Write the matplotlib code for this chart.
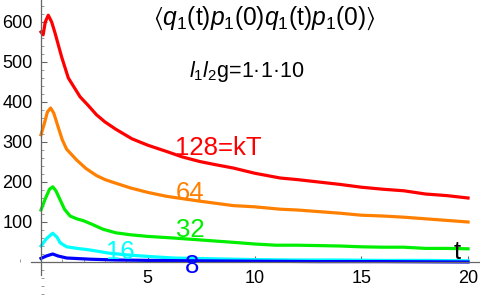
import matplotlib
matplotlib.use("Agg")
from matplotlib import pyplot as plt
from matplotlib.ticker import MultipleLocator

plt.rcParams['font.family'] = ['Liberation Sans', 'DejaVu Sans']
plt.rcParams['mathtext.fontset'] = 'custom'
plt.rcParams['mathtext.rm'] = 'Liberation Sans'
plt.rcParams['mathtext.it'] = 'Liberation Sans:italic'
plt.rcParams['mathtext.fallback'] = 'stixsans'

# kT = 128
t_red = [0, 0.1, 0.2, 0.34, 0.5, 0.66, 0.97, 1.28, 1.83, 2.2, 2.6, 3.0, 3.5, 4.26,
         5.0, 5.9, 6.6, 7.45, 8.2, 9.0, 10, 11.2, 12, 13, 14, 15, 16, 17, 18, 19, 20]
y_red = [575, 568, 600, 617, 600, 572, 512, 460, 413, 392, 368, 350, 332, 308,
         292, 276, 263, 251, 243, 235, 222, 210, 206, 200, 194, 187, 182, 178, 170, 166, 160]

# kT = 64
t_org = [0, 0.15, 0.3, 0.45, 0.6, 0.8, 1.0, 1.2, 1.67, 2.1, 2.6, 3.0, 3.5, 4.2, 5.0, 5.9,
         7.45, 9.0, 10, 11.2, 12, 13, 14, 15, 16, 17, 18, 19, 20]
y_org = [318, 345, 375, 385, 372, 338, 305, 282, 255, 234, 216, 206, 197, 185, 174, 164,
         152, 141, 138, 132, 130, 126, 122, 117, 115, 112, 108, 104, 100]

# kT = 32
t_grn = [0, 0.2, 0.4, 0.55, 0.7, 0.9, 1.1, 1.36, 1.67, 2.0, 2.4, 2.9, 3.5, 4.2, 5.0, 6.2,
         7.5, 9.3, 10, 11, 12, 13, 14, 15, 16, 17, 18, 19, 20]
y_grn = [130, 158, 182, 188, 178, 155, 132, 115, 108, 103, 94, 82, 73, 68, 64, 60,
         55, 48, 45, 42, 42, 41, 40, 38, 37, 37, 34, 34, 33]

# kT = 16
t_cyn = [0, 0.25, 0.55, 0.75, 0.9, 1.2, 1.7, 2.3, 3.2, 4.2, 5.0, 6.2, 8,
         10, 12, 14, 16, 18, 20]
y_cyn = [40, 58, 72, 62, 48, 38, 34, 30, 22, 17, 14, 10, 8,
         6, 5, 5, 4, 4, 3]

# kT = 8
t_blu = [0, 0.25, 0.55, 0.8, 1.2, 2.3, 3.5, 5, 7, 10, 13, 16, 20]
y_blu = [9, 15, 20, 15, 10, 7, 5, 4, 3, 2, 1, 1, 0]

fig = plt.figure(figsize=(4.8, 2.96), dpi=100)
ax = fig.add_axes([0, 0, 1, 1])

lw = 2.3
ax.plot(t_red, y_red, color='#ff0000', lw=lw)
ax.plot(t_org, y_org, color='#ff8000', lw=lw)
ax.plot(t_grn, y_grn, color='#00ee00', lw=lw)
ax.plot(t_cyn, y_cyn, color='#00ffff', lw=lw)
ax.plot(t_blu, y_blu, color='#0000ff', lw=lw)

ax.set_xlim(-1.92, 20.56)
ax.set_ylim(-85, 655)

for s in ['top', 'right']:
    ax.spines[s].set_visible(False)
ax.spines['left'].set_position(('data', 0))
ax.spines['bottom'].set_position(('data', 0))
ax.spines['left'].set_bounds(-32, 655)
ax.spines['bottom'].set_bounds(-0.47, 20.56)
for s in ['left', 'bottom']:
    ax.spines[s].set_color('#666666')
    ax.spines[s].set_linewidth(0.9)

ax.xaxis.set_minor_locator(MultipleLocator(1))
ax.yaxis.set_minor_locator(MultipleLocator(20))
ax.set_xticks([5, 10, 15, 20])
ax.set_yticks([100, 200, 300, 400, 500, 600])
ax.tick_params(which='major', direction='in', length=4, width=0.8, color='#666666',
               labelsize=13, pad=6)
ax.tick_params(which='minor', direction='in', length=2.2, width=0.6, color='#888888')

fs = 18.5
ax.text(8.3, 285, '128=kT', color='#ff0000', fontsize=fs, ha='center', va='center')
ax.text(7, 172, '64', color='#ff8000', fontsize=fs, ha='center', va='center')
ax.text(7, 80, '32', color='#00ee00', fontsize=fs, ha='center', va='center')
ax.text(3.7, 25, '16', color='#00ffff', fontsize=fs, ha='center', va='center')
ax.text(7.07, -10, '8', color='#0000ff', fontsize=fs, ha='center', va='center')
ax.text(19.5, 25, 't', color='black', fontsize=fs, ha='center', va='center')

ax.text(10.44, 608, r'$\langle q_1\mathrm{(t)}p_1\mathrm{(0)}q_1\mathrm{(t)}p_1\mathrm{(0)}\rangle$',
        fontsize=17.7, ha='center', va='center')
ax.text(9.65, 475, '$l_1l_2$g=1\u00b71\u00b710', fontsize=15.5,
        ha='center', va='center')

fig.savefig('out.png', dpi=100)
